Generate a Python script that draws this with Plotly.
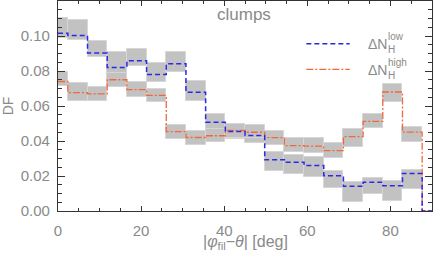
import plotly.graph_objects as go

# bin centres [deg]
angle_centres = [0.0, 4.74, 9.47, 14.21, 18.95, 23.68, 28.42, 33.16, 37.89, 42.63,
                 47.37, 52.11, 56.84, 61.58, 66.32, 71.05, 75.79, 80.53, 85.26, 90.0]
bin_width = 4.737

low_df = [0.1016, 0.1003, 0.0903, 0.0820, 0.0859, 0.0780, 0.0842, 0.0679, 0.0507, 0.0454,
          0.0431, 0.0293, 0.0279, 0.0260, 0.0201, 0.0141, 0.0165, 0.0145, 0.0215, 0.0]
low_hi = [0.1104, 0.1089, 0.0969, 0.0907, 0.0927, 0.0847, 0.0907, 0.0742, 0.0555, 0.0490,
          0.0475, 0.0336, 0.0321, 0.0311, 0.0231, 0.0165, 0.0187, 0.0169, 0.0235, 0.0]
low_lo = [0.0990, 0.0978, 0.0879, 0.0745, 0.0831, 0.0736, 0.0797, 0.0631, 0.0465, 0.0413,
          0.0387, 0.0226, 0.0213, 0.0193, 0.0134, 0.0054, 0.0098, 0.0060, 0.0123, 0.0]

high_df = [0.0740, 0.0677, 0.0669, 0.0750, 0.0694, 0.0661, 0.0454, 0.0420, 0.0430, 0.0460,
           0.0450, 0.0419, 0.0374, 0.0371, 0.0345, 0.0425, 0.0512, 0.0680, 0.0451, 0.0]
high_hi = [0.0793, 0.0730, 0.0711, 0.0790, 0.0736, 0.0698, 0.0493, 0.0460, 0.0470, 0.0498,
           0.0493, 0.0460, 0.0416, 0.0416, 0.0390, 0.0466, 0.0555, 0.0723, 0.0479, 0.0]
high_lo = [0.0712, 0.0631, 0.0627, 0.0707, 0.0654, 0.0622, 0.0413, 0.0380, 0.0393, 0.0420,
           0.0415, 0.0378, 0.0336, 0.0333, 0.0302, 0.0365, 0.0473, 0.0622, 0.0397, 0.0]

x_ticks = [0, 20, 40, 60, 80]
y_ticks = [0.00, 0.02, 0.04, 0.06, 0.08, 0.10, 0.12]
x_title = "|<i>φ</i><sub>fil</sub>−<i>θ</i>| [deg]"

BLUE = "#2a2ae6"
ORANGE = "#f2683a"
GRAY = "#c2c2c2"
TXT = "#8a8a8a"
AX = "#333333"
FONT = "Liberation Sans"

fig = go.Figure()
for hi, lo in ((low_hi, low_lo), (high_hi, high_lo)):
    fig.add_trace(go.Bar(
        x=angle_centres,
        y=[h - l for h, l in zip(hi, lo)],
        base=lo,
        width=bin_width,
        marker=dict(color=GRAY, line=dict(color="#d6d6d6", width=1)),
        showlegend=False, hoverinfo="skip"))

fig.add_trace(go.Scatter(x=angle_centres, y=high_df, mode="lines",
                         line=dict(shape="hvh", color=ORANGE, width=1.3,
                                   dash="7px,2px,2px,2px"),
                         showlegend=False))
fig.add_trace(go.Scatter(x=angle_centres, y=low_df, mode="lines",
                         line=dict(shape="hvh", color=BLUE, width=1.5,
                                   dash="5px,3px"),
                         showlegend=False))

# legend keys
fig.add_shape(type="line", xref="paper", yref="paper", x0=0.664, x1=0.780,
              y0=0.796, y1=0.796, line=dict(color=BLUE, width=1.5, dash="5px,3px"))
fig.add_shape(type="line", xref="paper", yref="paper", x0=0.664, x1=0.780,
              y0=0.674, y1=0.674, line=dict(color=ORANGE, width=1.3, dash="7px,2px,2px,2px"))

def ann(text, x, y, size, anchor="left"):
    fig.add_annotation(text=text, xref="paper", yref="paper", x=x, y=y,
                       xanchor=anchor, yanchor="middle", showarrow=False,
                       borderpad=0,
                       font=dict(family=FONT, size=size, color=TXT))

ann("ΔN", 0.827, 0.796, 14)
ann("low", 0.880, 0.830, 10)
ann("H", 0.880, 0.768, 10)
ann("ΔN", 0.827, 0.672, 14)
ann("high", 0.880, 0.706, 10)
ann("H", 0.880, 0.644, 10)
ann("clumps", 0.498, 0.936, 17, anchor="center")
ann(x_title, 0.5, -0.150, 16, anchor="center")

fig.update_layout(
    width=433, height=253,
    margin=dict(l=58, r=1, t=1, b=42),
    paper_bgcolor="white", plot_bgcolor="white",
    barmode="overlay", bargap=0,
    font=dict(family=FONT, size=15, color=TXT),
    showlegend=False,
)
fig.update_xaxes(
    range=[0, 90], tickvals=x_ticks, ticktext=[str(v) for v in x_ticks],
    ticks="inside", ticklen=5, tickcolor=AX, tickwidth=1,
    minor=dict(dtick=5, ticks="inside", ticklen=3, tickcolor=AX),
    showline=True, linecolor=AX, linewidth=1.2, mirror="allticks",
    showgrid=False, zeroline=False, ticklabelstandoff=6, automargin=False,
    tickfont=dict(family=FONT, size=15, color=TXT),
)
fig.update_yaxes(
    range=[0, 0.12], tickvals=y_ticks, ticktext=[f"{v:.2f}" for v in y_ticks],
    ticks="inside", ticklen=7, tickcolor=AX, tickwidth=1,
    minor=dict(dtick=0.005, ticks="inside", ticklen=4, tickcolor=AX),
    showline=True, linecolor=AX, linewidth=1.2, mirror="allticks",
    showgrid=False, zeroline=False, ticklabelstandoff=4, automargin=False,
    tickfont=dict(family=FONT, size=15, color=TXT),
    title=dict(text="DF", standoff=6, font=dict(family=FONT, size=14, color=TXT)),
)

fig.write_html("out.html", config={"displayModeBar": False},
               post_script="document.body.style.margin='0';"
                           "document.body.style.overflow='hidden';")
